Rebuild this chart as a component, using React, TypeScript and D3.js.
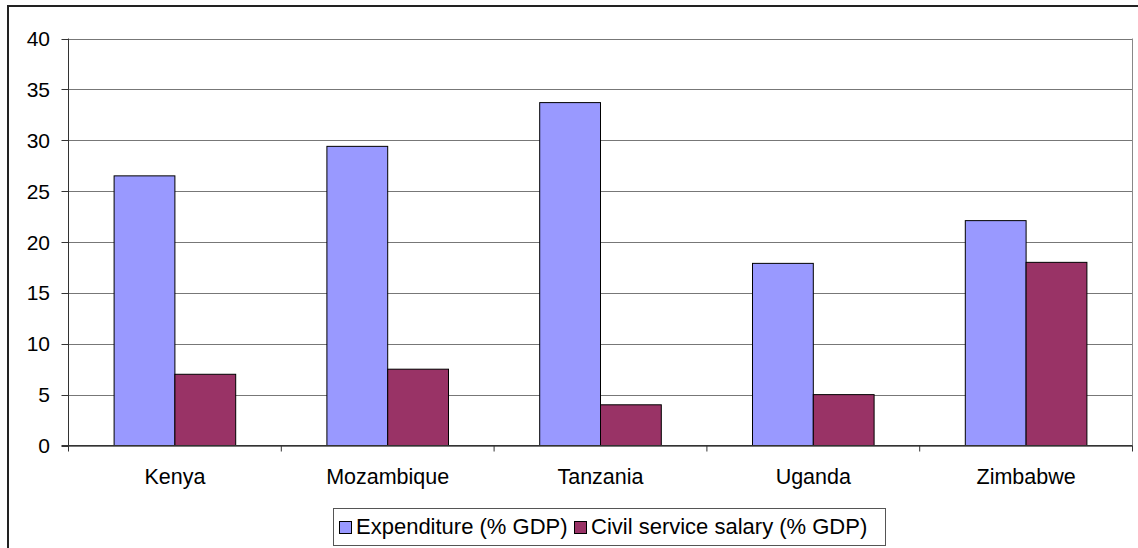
import React from "react";
import * as d3 from "d3";

const categories = ["Kenya", "Mozambique", "Tanzania", "Uganda", "Zimbabwe"];
const seriesNames = ["Expenditure (% GDP)", "Civil service salary (% GDP)"];
const expenditure = [26.5, 29.4, 33.7, 17.9, 22.1];
const salary = [7.0, 7.5, 4.0, 5.0, 18.0];
const yTicks = [0, 5, 10, 15, 20, 25, 30, 35, 40];
const colors = ["#9999FF", "#993366"];

const W = 1138;
const H = 548;
const plot = { left: 68.5, right: 1132.5, top: 38.5, bottom: 445.5 };
const FONT = "'Liberation Sans', Arial, sans-serif";

export default function App() {
  const x = d3
    .scaleBand<string>()
    .domain(categories)
    .range([plot.left, plot.right])
    .paddingInner(0)
    .paddingOuter(0);
  const y = d3.scaleLinear().domain([0, 40]).range([plot.bottom, plot.top]);
  const bw = x.bandwidth();
  const barW = bw / 3.5; // gap width 150%
  const series = [expenditure, salary];

  const legend = { x: 333.5, y: 508.5, w: 552, h: 37 };
  const tickFs = 21;
  const catFs = 21.5;
  const legFs = 22;

  return (
    <svg
      width={W}
      height={H}
      style={{ position: "absolute", left: 0, top: 0, background: "#fff" }}
      fontFamily={FONT}
    >
      <rect x={0} y={0} width={W} height={H} fill="#fff" />
      {/* outer chart border */}
      <rect x={8} y={6} width={W + 20} height={H + 20} fill="none" stroke="#222" strokeWidth={2} />
      {/* gridlines */}
      {yTicks.map((t) => (
        <line key={"g" + t} x1={plot.left} x2={plot.right} y1={Math.round(y(t)) + 0.5} y2={Math.round(y(t)) + 0.5} stroke="#777" strokeWidth={1} />
      ))}
      {/* plot area right border */}
      <line x1={plot.right} x2={plot.right} y1={plot.top} y2={plot.bottom} stroke="#888" strokeWidth={1} />
      {/* bars */}
      {categories.map((c, i) => {
        const start = (x(c) as number) + (bw - 2 * barW) / 2;
        return series.map((s, j) => (
          <rect
            key={c + j}
            x={start + j * barW}
            y={y(s[i])}
            width={barW}
            height={y(0) - y(s[i])}
            fill={colors[j]}
            stroke="#000"
            strokeWidth={1}
          />
        ));
      })}
      {/* y axis */}
      <line x1={plot.left} x2={plot.left} y1={plot.top} y2={plot.bottom + 6} stroke="#333" strokeWidth={1} />
      {yTicks.map((t) => (
        <g key={"t" + t}>
          <line x1={plot.left - 7} x2={plot.left} y1={Math.round(y(t)) + 0.5} y2={Math.round(y(t)) + 0.5} stroke="#333" />
          <text x={50} y={y(t) + 7.5} textAnchor="end" fontSize={tickFs} fill="#000">
            {t}
          </text>
        </g>
      ))}
      {/* x axis */}
      <line x1={plot.left - 7} x2={plot.right} y1={plot.bottom} y2={plot.bottom} stroke="#333" strokeWidth={1} />
      {categories.map((c) => (
        <line key={"xt" + c} x1={(x(c) as number) + bw} x2={(x(c) as number) + bw} y1={plot.bottom} y2={plot.bottom + 6} stroke="#333" />
      ))}
      {categories.map((c) => (
        <text key={"xl" + c} x={(x(c) as number) + bw / 2} y={484} textAnchor="middle" fontSize={catFs} fill="#000">
          {c}
        </text>
      ))}
      {/* legend */}
      <rect x={legend.x} y={legend.y} width={legend.w} height={legend.h} fill="#fff" stroke="#555" strokeWidth={1} />
      <rect x={339.5} y={521.5} width={12} height={12} fill={colors[0]} stroke="#000" />
      <text x={356} y={534} fontSize={legFs} fill="#000">{seriesNames[0]}</text>
      <rect x={574.5} y={521.5} width={12} height={12} fill={colors[1]} stroke="#000" />
      <text x={591} y={534} fontSize={legFs} fill="#000">{seriesNames[1]}</text>
    </svg>
  );
}
